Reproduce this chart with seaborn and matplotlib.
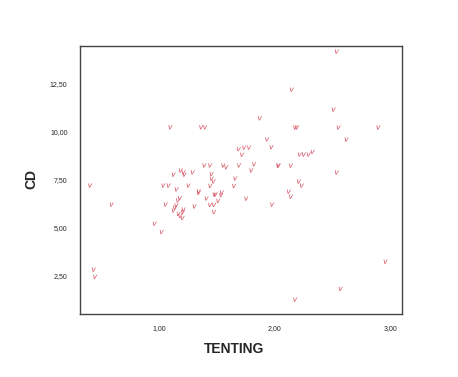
import matplotlib
matplotlib.use("Agg")
import matplotlib.pyplot as plt
import seaborn as sns
import pandas as pd

tenting = [0.399, 0.431, 0.442, 0.586, 0.959, 1.020, 1.034, 1.080, 1.054, 1.095,
           1.123, 1.123, 1.135, 1.147, 1.149, 1.161, 1.178, 1.166, 1.181, 1.201,
           1.209, 1.204, 1.185, 1.209, 1.217, 1.252, 1.289, 1.304, 1.341, 1.341,
           1.362, 1.397, 1.390, 1.440, 1.409, 1.440, 1.474, 1.453, 1.453, 1.470,
           1.441, 1.474, 1.478, 1.487, 1.510, 1.541, 1.536, 1.554, 1.580, 1.648,
           1.658, 1.691, 1.688, 1.717, 1.735, 1.778, 1.753, 1.797, 1.822, 1.872,
           1.934, 1.972, 1.978, 2.030, 2.034, 2.123, 2.141, 2.141, 2.149, 2.178,
           2.194, 2.177, 2.209, 2.235, 2.218, 2.253, 2.295, 2.329, 2.511, 2.539,
           2.539, 2.554, 2.572, 2.623, 2.899, 2.961]
cd = [7.17, 2.78, 2.41, 6.18, 5.18, 4.75, 7.17, 7.17, 6.18, 10.21,
      7.74, 5.87, 6.02, 6.14, 6.97, 6.39, 6.51, 5.69, 5.58, 5.48,
      5.92, 5.79, 7.96, 7.86, 7.74, 7.17, 7.86, 6.08, 6.87, 6.79,
      10.21, 10.21, 8.22, 8.22, 6.50, 6.16, 6.16, 7.77, 7.53, 7.39,
      7.15, 5.79, 6.70, 6.70, 6.37, 6.81, 6.67, 8.22, 8.13, 7.15,
      7.54, 8.22, 9.07, 8.78, 9.15, 9.15, 6.49, 7.96, 8.28, 10.68,
      9.58, 9.17, 6.18, 8.21, 8.21, 6.85, 6.59, 8.21, 12.17, 10.20,
      10.20, 1.22, 7.38, 7.17, 8.79, 8.79, 8.79, 8.93, 11.13, 14.16,
      7.85, 10.20, 1.78, 9.57, 10.20, 3.20]

xticks = [1.0, 2.0, 3.0]
xticklabels = ["1,00", "2,00", "3,00"]
yticks = [2.5, 5.0, 7.5, 10.0, 12.5]
yticklabels = ["2,50", "5,00", "7,50", "10,00", "12,50"]

df = pd.DataFrame({"TENTING": tenting, "CD": cd})

sns.set_style("white")
plt.rcParams["font.family"] = ["Liberation Sans", "DejaVu Sans"]

fig = plt.figure(figsize=(4.58, 3.77), dpi=100)
ax = fig.add_axes([80 / 458, 1 - 314 / 377, 322 / 458, 268 / 377])

sns.scatterplot(data=df, x="TENTING", y="CD", ax=ax, marker="$v$",
                s=9, color="#d64a5c", edgecolor="none", linewidth=0.3, legend=False)

ax.set_xlim(0.31, 3.103)
ax.set_ylim(0.47, 14.45)
ax.set_xticks(xticks)
ax.set_xticklabels(xticklabels, fontsize=5)
ax.set_yticks(yticks)
ax.set_yticklabels(yticklabels, fontsize=5)
ax.tick_params(axis="both", direction="out", length=5, width=1.8, color="black", pad=4)
ax.tick_params(axis="x", pad=3)
for sp in ax.spines.values():
    sp.set_color("#444444")
    sp.set_linewidth(1.0)

ax.set_xlabel("TENTING", fontsize=10, fontweight="bold")
ax.set_ylabel("CD", fontsize=10, fontweight="bold")
ax.xaxis.set_label_coords((234 - 80) / 322, (314 - 349) / 268)
ax.xaxis.label.set_va("center")
ax.yaxis.set_label_coords((31 - 80) / 322, (314 - 179) / 268)
ax.yaxis.label.set_va("center")

fig.savefig("out.png", dpi=100, facecolor="white")
